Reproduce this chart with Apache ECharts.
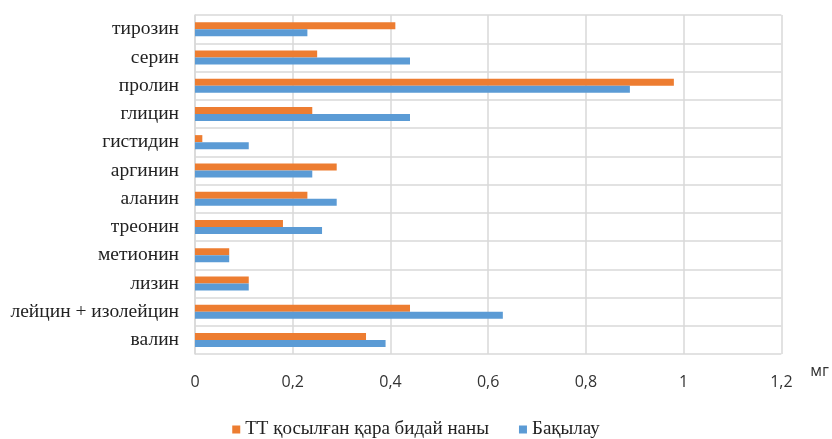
<!DOCTYPE html>
<html>
<head>
<meta charset="utf-8">
<script src="https://cdn.jsdelivr.net/npm/echarts@6/dist/echarts.min.js"></script>
<style>
  html, body { margin: 0; padding: 0; background: #fff; }
  #chart { width: 832px; height: 439px; }
</style>
</head>
<body>
<div id="chart"></div>
<script>
// Amino acids, listed bottom to top as drawn on the category axis
const categories = [
  'валин', 'лейцин + изолейцин', 'лизин', 'метионин', 'треонин', 'аланин',
  'аргинин', 'гистидин', 'глицин', 'пролин', 'серин', 'тирозин'
];
// Rye bread with additive (mg)
const ttValues = [0.35, 0.44, 0.11, 0.07, 0.18, 0.23, 0.29, 0.015, 0.24, 0.98, 0.25, 0.41];
// Control sample (mg)
const controlValues = [0.39, 0.63, 0.11, 0.07, 0.26, 0.29, 0.24, 0.11, 0.44, 0.89, 0.44, 0.23];
const ttName = 'ТТ қосылған қара бидай наны';
const controlName = 'Бақылау';
const unitName = 'мг';

const chart = echarts.init(document.getElementById('chart'));
chart.setOption({
  animation: false,
  backgroundColor: '#ffffff',
  grid: { left: 195, right: 50, top: 15, bottom: 85, containLabel: false },
  legend: {
    data: [ttName, controlName],
    top: 415,
    left: 'center',
    itemWidth: 8,
    itemHeight: 8,
    itemGap: 30,
    icon: 'rect',
    textStyle: { fontFamily: 'Liberation Serif', fontSize: 19, color: '#222' }
  },
  xAxis: {
    type: 'value',
    min: 0,
    max: 1.2,
    interval: 0.2,
    name: unitName,
    nameLocation: 'end',
    nameGap: 29,
    nameTextStyle: {
      fontFamily: 'Open Sans', fontSize: 16, color: '#333',
      verticalAlign: 'top', padding: [9, 0, 0, 0]
    },
    axisLine: { show: false },
    axisTick: { show: false },
    axisLabel: {
      margin: 20,
      fontFamily: 'Open Sans', fontSize: 16, color: '#333',
      formatter: v => String(Math.round(v * 10) / 10).replace('.', ',')
    },
    splitLine: { lineStyle: { color: '#d9d9d9', width: 1.5 } }
  },
  yAxis: {
    type: 'category',
    data: categories,
    axisLine: { show: true, lineStyle: { color: '#d9d9d9', width: 1.5 } },
    axisTick: { show: false },
    axisLabel: {
      margin: 16,
      fontFamily: 'Liberation Serif', fontSize: 19.5, color: '#222'
    },
    splitLine: { show: true, lineStyle: { color: '#d9d9d9', width: 1.5 } }
  },
  series: [
    {
      name: ttName,
      type: 'bar',
      data: ttValues,
      barWidth: 7,
      barGap: '0%',
      itemStyle: { color: '#ED7D31' }
    },
    {
      name: controlName,
      type: 'bar',
      data: controlValues,
      barWidth: 7,
      barGap: '0%',
      itemStyle: { color: '#5B9BD5' }
    }
  ]
});
</script>
</body>
</html>
